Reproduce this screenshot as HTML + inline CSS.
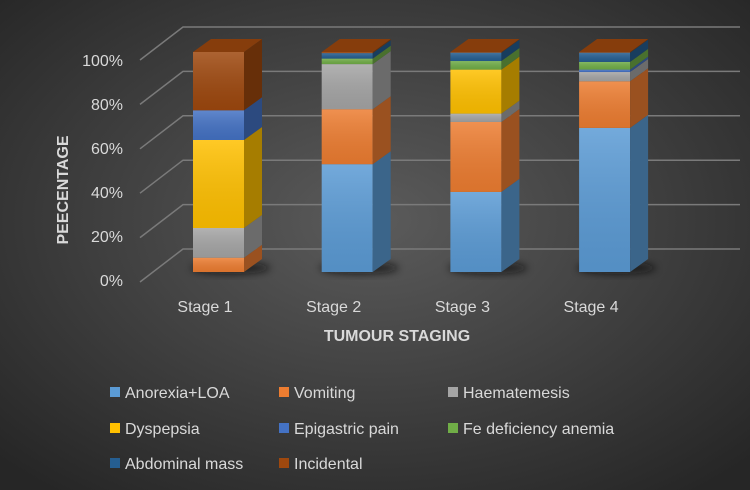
<!DOCTYPE html>
<html><head><meta charset="utf-8"><style>
body{margin:0;width:750px;height:490px;overflow:hidden}
svg{display:block;font-family:"Liberation Sans",Carlito,sans-serif}
</style></head><body>
<svg id="c" width="750" height="490" viewBox="0 0 750 490">
<defs>
<radialGradient id="bg" cx="50%" cy="45%" r="70%">
<stop offset="0" stop-color="#5b5b5b"/><stop offset="1" stop-color="#262626"/>
</radialGradient>
<linearGradient id="shine" x1="0" y1="0" x2="0" y2="1">
<stop offset="0" stop-color="#fff" stop-opacity="0.15"/><stop offset="1" stop-color="#000" stop-opacity="0.08"/>
</linearGradient>
<filter id="blur" x="-50%" y="-50%" width="200%" height="200%"><feGaussianBlur stdDeviation="4"/></filter>
</defs>
<rect width="750" height="490" fill="url(#bg)"/>
<g id="grid"></g>
<g id="yticks"></g>
<g id="bars"></g>
<g id="xticks"></g>
<text x="397" y="341" text-anchor="middle" font-size="16" font-weight="bold" fill="#d9d9d9">TUMOUR STAGING</text>
<text transform="translate(68,190) rotate(-90)" text-anchor="middle" font-size="16" font-weight="bold" fill="#d9d9d9">PEECENTAGE</text>
<g id="legend"></g>
</svg>
<script>
const categories=["Stage 1","Stage 2","Stage 3","Stage 4"];
const seriesNames=["Anorexia+LOA","Vomiting","Haematemesis","Dyspepsia","Epigastric pain","Fe deficiency anemia","Abdominal mass","Incidental"];
const anorexia=[0,49,36.4,65.5];
const vomiting=[6.5,25,31.8,21.2];
const haematemesis=[13.5,20.5,3.8,4.2];
const dyspepsia=[40,0,20,0];
const epigastric=[13.5,0,0,1.1];
const fedef=[0,2.5,3.9,3.5];
const abdominal=[0,2.5,3.8,4.2];
const incidental=[26.5,0.5,0.3,0.3];
const yTicks=["0%","20%","40%","60%","80%","100%"];
const seriesData=[anorexia,vomiting,haematemesis,dyspepsia,epigastric,fedef,abdominal,incidental];
const colors=["#5b9bd5","#ed7d31","#a5a5a5","#ffc000","#4472c4","#70ad47","#255e91","#9e480e"];
const NS="http://www.w3.org/2000/svg";
function mk(tag,attrs,parent){const e=document.createElementNS(NS,tag);for(const k in attrs)e.setAttribute(k,attrs[k]);parent.appendChild(e);return e;}
function shade(hex,f){const n=parseInt(hex.slice(1),16);let r=n>>16,g=(n>>8)&255,b=n&255;return `rgb(${Math.round(r*f)},${Math.round(g*f)},${Math.round(b*f)})`;}
const y0=272,y100=52;
function yScale(v){return y0-(y0-y100)*v/100;}
function backY(v){return 249-(249-27)*v/100;}
const barX0=193,barStep=128.7,barW=51,dx=18,dy=-13;
function xScale(i){return barX0+i*barStep;}
const grid=document.getElementById('grid'),yt=document.getElementById('yticks');
yTicks.forEach((t,i)=>{const v=i*20,by=backY(v);
 const g=mk('polyline',{points:`140,${by+33} 183,${by} 740,${by}`,fill:'none',stroke:'#7a7a7a','stroke-width':1.5},grid);
 
 const tx=mk('text',{x:123,y:yScale(v)+14,'text-anchor':'end','font-size':16,fill:'#d9d9d9'},yt);
 tx.textContent=t;});
const bars=document.getElementById('bars'),xt=document.getElementById('xticks');
categories.forEach((c,i)=>{const x=xScale(i);
 const sh=mk('ellipse',{cx:x+barW/2+12,cy:y0-4,rx:barW/2+14,ry:6,fill:'#111',opacity:0.7,filter:'url(#blur)'},bars);
 
 let cum=0,lastTop=null;
 seriesData.forEach((s,j)=>{const v=s[i];if(v<=0)return;
  const yb=yScale(cum),ytp=yScale(cum+v);cum+=v;
  const g=mk('g',{},bars);
  mk('rect',{x:x,y:ytp,width:barW,height:yb-ytp,fill:colors[j]},g);
  mk('rect',{x:x,y:ytp,width:barW,height:yb-ytp,fill:'url(#shine)'},g);
  mk('polygon',{points:`${x+barW},${ytp} ${x+barW+dx},${ytp+dy} ${x+barW+dx},${yb+dy} ${x+barW},${yb}`,fill:shade(colors[j],0.65)},g);
  lastTop=[ytp,colors[j]];});
 if(lastTop){const t=mk('polygon',{points:`${x},${lastTop[0]} ${x+dx},${lastTop[0]+dy} ${x+barW+dx},${lastTop[0]+dy} ${x+barW},${lastTop[0]}`,fill:shade(lastTop[1],0.85)},bars);
  }
 const l=mk('text',{x:x+12,y:312,'text-anchor':'middle','font-size':16,fill:'#d9d9d9'},xt);
 l.textContent=c;});
const leg=document.getElementById('legend');
const lx=[110,279,448],ly=[392,428,463];
seriesNames.forEach((n,j)=>{const cx=lx[j%3],cy=ly[Math.floor(j/3)];
 const g=mk('g',{},leg);
 mk('rect',{x:cx,y:cy-5,width:10,height:10,fill:colors[j]},g);
 const t=mk('text',{x:cx+15,y:cy+6,'font-size':16,fill:'#d9d9d9'},g);t.textContent=n;});
</script>
</body></html>
